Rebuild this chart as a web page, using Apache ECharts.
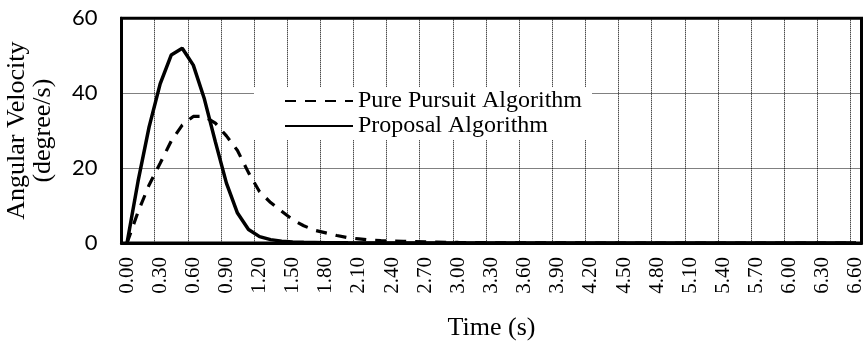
<!DOCTYPE html>
<html>
<head>
<meta charset="utf-8">
<script src="https://cdn.jsdelivr.net/npm/echarts@6/dist/echarts.min.js"></script>
<style>
html,body{margin:0;padding:0;background:#fff;}
#chart{width:868px;height:343px;}
</style>
</head>
<body>
<div id="chart"></div>
<script>
var categories = ['0.00','0.10','0.20','0.30','0.40','0.50','0.60','0.70','0.80','0.90',
  '1.00','1.10','1.20','1.30','1.40','1.50','1.60','1.70','1.80','1.90',
  '2.00','2.10','2.20','2.30','2.40','2.50','2.60','2.70','2.80','2.90',
  '3.00','3.10','3.20','3.30','3.40','3.50','3.60','3.70','3.80','3.90',
  '4.00','4.10','4.20','4.30','4.40','4.50','4.60','4.70','4.80','4.90',
  '5.00','5.10','5.20','5.30','5.40','5.50','5.60','5.70','5.80','5.90',
  '6.00','6.10','6.20','6.30','6.40','6.50','6.60'];

var purePursuit = [0, 8.3, 15.5, 21.3, 27.2, 31.5, 33.8, 33.8, 32.0, 28.6,
  24.7, 18.8, 13.7, 10.8, 8.5, 6.2, 4.6, 3.4, 2.7, 2.0,
  1.4, 1.1, 0.8, 0.65, 0.55, 0.45, 0.35, 0.3, 0.25, 0.2,
  0.15, 0.12, 0.1, 0.08, 0.06, 0.05, 0.04, 0.03, 0.02, 0.02,
  0.01, 0.01, 0, 0, 0, 0, 0, 0, 0, 0,
  0, 0, 0, 0, 0, 0, 0, 0, 0, 0,
  0, 0, 0, 0, 0, 0, 0];

var proposal = [0, 16.5, 31.0, 42.5, 50.2, 52.0, 47.5, 38.5, 27.0, 16.0,
  8.0, 3.6, 1.7, 0.9, 0.5, 0.3, 0.2, 0.15, 0.1, 0.1,
  0.05, 0.03, 0.02, 0.01, 0, 0, 0, 0, 0, 0,
  0, 0, 0, 0, 0, 0, 0, 0, 0, 0,
  0, 0, 0, 0, 0, 0, 0, 0, 0, 0,
  0, 0, 0, 0, 0, 0, 0, 0, 0, 0,
  0, 0, 0, 0, 0, 0, 0];

var seriesNames = ['Pure Pursuit Algorithm', 'Proposal Algorithm'];
var yTicks = [0, 20, 40, 60];

var chart = echarts.init(document.getElementById('chart'), null, {renderer: 'canvas'});
var serif = 'Liberation Serif, Times New Roman, serif';

chart.setOption({
  animation: false,
  backgroundColor: '#fff',
  grid: {
    left: 121.5, right: 6.5, top: 18.3, bottom: 100,
    outerBoundsMode: 'none',
    containLabel: false,
    show: true, borderColor: '#000', borderWidth: 3, backgroundColor: 'transparent'
  },
  legend: {
    orient: 'vertical',
    left: 254, top: 87,
    padding: [1.5, 10, 1.5, 30],
    backgroundColor: '#fff',
    itemWidth: 68, itemHeight: 14, itemGap: 0,
    itemStyle: {opacity: 0},
    textStyle: {fontFamily: serif, fontSize: 24, color: '#000', lineHeight: 25},
    data: seriesNames
  },
  xAxis: {
    type: 'category',
    data: categories,
    boundaryGap: true,
    name: 'Time (s)',
    nameLocation: 'middle',
    nameGap: 72,
    nameTextStyle: {fontFamily: serif, fontSize: 26, color: '#000'},
    axisLine: {show: true, lineStyle: {color: '#000', width: 3}},
    axisTick: {show: false, interval: 2},
    axisLabel: {interval: 2, rotate: 90, margin: 14, fontFamily: serif, fontSize: 21, color: '#000'},
    splitLine: {show: true, interval: 2, lineStyle: {color: '#000', width: 1, type: [1, 1]}}
  },
  yAxis: {
    type: 'value',
    min: yTicks[0], max: yTicks[yTicks.length - 1], interval: 20,
    name: 'Angular Velocity\n(degree/s)',
    nameLocation: 'middle',
    nameGap: 65,
    nameRotate: 90,
    nameTextStyle: {fontFamily: serif, fontSize: 26, color: '#000', lineHeight: 26},
    axisLine: {show: true, lineStyle: {color: '#000', width: 3}},
    axisTick: {show: false},
    axisLabel: {margin: 24, fontFamily: 'Lato, Open Sans, sans-serif', fontSize: 22, color: '#000'},
    splitLine: {show: true, lineStyle: {color: '#000', width: 1, type: [1, 1]}}
  },
  series: [
    {
      name: seriesNames[0], type: 'line', data: purePursuit,
      symbol: 'none', smooth: false,
      lineStyle: {color: '#000', width: 3.2, type: [11, 9]},
      itemStyle: {color: '#000'}
    },
    {
      name: seriesNames[1], type: 'line', data: proposal,
      symbol: 'none', smooth: false,
      lineStyle: {color: '#000', width: 3.5, type: 'solid'},
      itemStyle: {color: '#000'}
    }
  ]
});
</script>
</body>
</html>
